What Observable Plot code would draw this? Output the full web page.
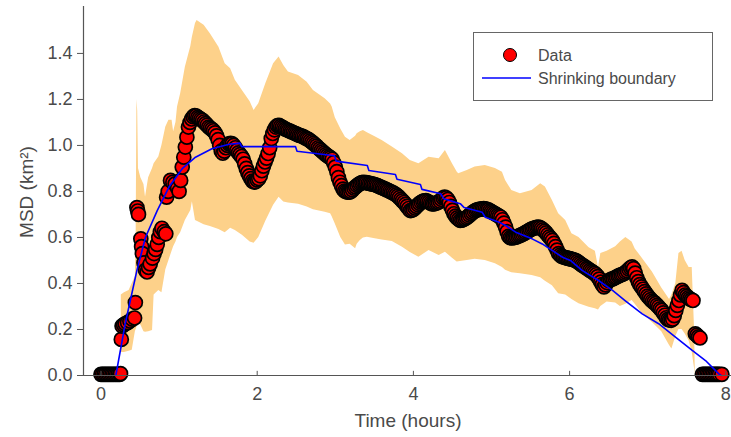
<!DOCTYPE html>
<html><head><meta charset="utf-8">
<script src="https://cdn.jsdelivr.net/npm/d3@7"></script>
<script src="https://cdn.jsdelivr.net/npm/@observablehq/plot@0.6"></script>
<style>
body{margin:0;background:#fff;}
#wrap{position:relative;width:731px;height:437px;}
</style></head><body><div id="wrap"></div>
<script>
const xTicks = [0, 2, 4, 6, 8];
const yTicks = [0, 0.2, 0.4, 0.6, 0.8, 1.0, 1.2, 1.4];
const xLabel = "Time (hours)";
const yLabel = "MSD (km²)";
const seriesNames = ["Data", "Shrinking boundary"];

const dataTime = [
0.00,0.02,0.04,0.06,0.08,0.10,0.12,0.14,0.16,0.18,0.20,0.22,0.24,0.25,0.26,0.27,0.29,0.31,0.34,0.37,0.40,0.43,0.44,0.46,0.47,0.48,0.51,0.52,0.53,0.55,0.57,0.59,0.61,0.63,0.66,0.68,0.70,0.72,0.74,0.76,0.78,0.81,0.83,0.84,0.86,0.89,0.92,0.95,0.98,1.00,1.02,1.04,1.06,1.08,
1.10,1.12,1.14,1.16,1.18,1.20,1.22,1.24,1.26,1.28,1.30,1.32,1.34,1.36,1.38,1.40,1.42,1.44,1.46,1.48,1.50,1.52,1.54,1.56,1.58,1.60,1.62,1.64,1.66,1.68,1.70,1.72,1.74,1.76,1.78,1.80,1.82,1.84,1.86,1.88,1.90,1.92,1.94,1.96,1.98,
2.00,2.02,2.04,2.06,2.08,2.10,2.12,2.14,2.16,2.18,2.20,2.22,2.24,2.26,2.28,2.30,2.32,2.34,2.36,2.38,2.40,2.42,2.44,2.46,2.48,2.50,2.52,2.54,2.56,2.58,2.60,2.62,2.64,2.66,2.68,2.70,2.72,2.74,2.76,2.78,2.80,2.82,2.84,2.86,2.88,2.90,2.92,2.94,2.96,2.98,
3.00,3.02,3.04,3.06,3.08,3.10,3.12,3.14,3.16,3.18,3.20,3.22,3.24,3.26,3.28,3.30,3.32,3.34,3.36,3.38,3.40,3.42,3.44,3.46,3.48,3.50,3.52,3.54,3.56,3.58,3.60,3.62,3.64,3.66,3.68,3.70,3.72,3.74,3.76,3.78,3.80,3.82,3.84,3.86,3.88,3.90,3.92,3.94,3.96,3.98,
4.00,4.02,4.04,4.06,4.08,4.10,4.12,4.14,4.16,4.18,4.20,4.22,4.24,4.26,4.28,4.30,4.32,4.34,4.36,4.38,4.40,4.42,4.44,4.46,4.48,4.50,4.52,4.54,4.56,4.58,4.60,4.62,4.64,4.66,4.68,4.70,4.72,4.74,4.76,4.78,4.80,4.82,4.84,4.86,4.88,4.90,4.92,4.94,4.96,4.98,
5.00,5.02,5.04,5.06,5.08,5.10,5.12,5.14,5.16,5.18,5.20,5.22,5.24,5.26,5.28,5.30,5.32,5.34,5.36,5.38,5.40,5.42,5.44,5.46,5.48,5.50,5.52,5.54,5.56,5.58,5.60,5.62,5.64,5.66,5.68,5.70,5.72,5.74,5.76,5.78,5.80,5.82,5.84,5.86,5.88,5.90,5.92,5.94,5.96,5.98,
6.00,6.02,6.04,6.06,6.08,6.10,6.12,6.14,6.16,6.18,6.20,6.22,6.24,6.26,6.28,6.30,6.32,6.34,6.36,6.38,6.40,6.42,6.44,6.46,6.48,6.50,6.52,6.54,6.56,6.58,6.60,6.62,6.64,6.66,6.68,6.70,6.72,6.74,6.76,6.78,6.80,6.82,6.84,6.86,6.88,6.90,6.92,6.94,6.96,6.98,
7.00,7.02,7.04,7.06,7.08,7.10,7.12,7.14,7.16,7.18,7.20,7.22,7.24,7.26,7.28,7.30,7.32,7.34,7.36,7.38,7.40,7.42,7.44,7.46,7.48,7.50,7.52,7.54,7.56,7.58,
7.61,7.63,7.65,7.67,7.70,7.72,7.74,7.76,7.78,7.80,7.82,7.84,7.86,7.88,7.90,7.92,7.95];
const dataMSD = [
0.005,0.005,0.005,0.005,0.005,0.005,0.005,0.005,0.005,0.005,0.005,0.005,0.005,0.008,0.157,0.215,0.22,0.225,0.23,0.237,0.245,0.25,0.317,0.73,0.715,0.70,0.594,0.56,0.53,0.49,0.457,0.45,0.47,0.485,0.51,0.53,0.548,0.57,0.60,0.625,0.64,0.625,0.616,0.775,0.80,0.848,0.84,0.833,0.815,0.80,0.848,0.906,0.949,0.993,
1.036,1.08,1.10,1.115,1.125,1.13,1.128,1.122,1.118,1.113,1.109,1.102,1.095,1.088,1.08,1.075,1.07,1.064,1.055,1.042,1.025,1.00,0.975,0.966,0.975,0.99,1.0,1.007,1.009,1.007,1.0,0.99,0.978,0.968,0.96,0.952,0.94,0.92,0.90,0.882,0.868,0.856,0.845,0.841,0.842,
0.85,0.856,0.868,0.89,0.91,0.928,0.945,0.965,0.99,1.03,1.052,1.068,1.08,1.086,1.087,1.083,1.079,1.075,1.071,1.068,1.065,1.062,1.059,1.056,1.053,1.05,1.047,1.044,1.042,1.04,1.036,1.032,1.029,1.025,1.02,1.015,1.009,1.003,0.997,0.99,0.984,0.978,0.972,0.966,0.96,0.955,0.95,0.946,0.94,0.925,
0.906,0.886,0.86,0.84,0.825,0.81,0.802,0.799,0.797,0.797,0.8,0.807,0.814,0.82,0.826,0.831,0.835,0.838,0.84,0.839,0.838,0.836,0.835,0.833,0.832,0.83,0.828,0.825,0.822,0.819,0.816,0.813,0.81,0.807,0.804,0.8,0.797,0.794,0.79,0.785,0.78,0.773,0.766,0.759,0.752,0.744,0.735,0.726,0.717,0.718,
0.722,0.728,0.735,0.742,0.748,0.753,0.757,0.759,0.76,0.757,0.753,0.749,0.746,0.746,0.748,0.75,0.753,0.758,0.765,0.772,0.775,0.772,0.765,0.752,0.735,0.718,0.703,0.693,0.685,0.679,0.674,0.675,0.678,0.682,0.686,0.691,0.697,0.703,0.709,0.714,0.718,0.72,0.722,0.723,0.724,0.725,0.724,0.722,0.72,0.716,
0.712,0.708,0.704,0.70,0.696,0.692,0.688,0.677,0.662,0.645,0.625,0.605,0.599,0.598,0.599,0.6,0.602,0.605,0.608,0.611,0.614,0.618,0.622,0.626,0.63,0.634,0.638,0.64,0.642,0.644,0.645,0.643,0.639,0.633,0.627,0.62,0.611,0.603,0.595,0.587,0.574,0.56,0.545,0.53,0.523,0.518,0.515,0.513,0.511,0.509,
0.508,0.506,0.504,0.502,0.50,0.495,0.49,0.485,0.48,0.476,0.471,0.466,0.462,0.457,0.453,0.448,0.444,0.438,0.43,0.419,0.406,0.395,0.385,0.394,0.404,0.413,0.416,0.419,0.421,0.425,0.428,0.432,0.435,0.438,0.44,0.444,0.449,0.455,0.462,0.468,0.472,0.465,0.445,0.425,0.408,0.395,0.385,0.375,0.365,0.355,
0.345,0.338,0.33,0.323,0.318,0.312,0.305,0.298,0.29,0.283,0.272,0.262,0.251,0.244,0.241,0.24,0.245,0.26,0.283,0.305,0.326,0.35,0.37,0.36,0.35,0.344,0.338,0.333,0.329,0.326,
0.181,0.175,0.168,0.163,0.005,0.005,0.005,0.005,0.005,0.005,0.005,0.005,0.005,0.005,0.005,0.005,0.005];

const boundTime = [0.19,0.31,0.46,0.57,0.72,0.87,1.04,1.21,1.42,1.64,1.78,1.80,2.49,2.51,2.99,3.01,3.41,3.43,3.77,3.79,4.09,4.11,4.35,4.39,4.60,4.65,4.88,4.92,5.09,5.18,5.31,5.52,5.65,5.78,5.91,6.01,6.16,6.37,6.55,6.71,6.93,7.14,7.36,7.57,7.74,7.91,7.94];
const boundMSD = [0,0.225,0.457,0.601,0.717,0.819,0.899,0.949,0.986,1.005,1.01,0.995,0.995,0.975,0.955,0.932,0.913,0.891,0.874,0.853,0.83,0.809,0.79,0.768,0.747,0.73,0.71,0.688,0.667,0.652,0.623,0.594,0.572,0.543,0.514,0.5,0.457,0.413,0.37,0.326,0.268,0.225,0.166,0.109,0.065,0.007,0];

const bandTime = [0.26,0.30,0.36,0.40,0.44,0.45,0.46,0.47,0.48,0.51,0.55,0.57,0.61,0.66,0.68,0.74,0.78,0.83,0.87,0.91,0.93,0.96,0.98,1.02,1.08,1.15,1.17,1.21,1.23,1.32,1.40,1.51,1.59,1.66,1.72,1.81,1.91,1.96,2.02,2.11,2.21,2.28,2.34,2.40,2.53,2.64,2.72,2.87,2.94,2.96,3.00,3.07,3.13,3.19,3.26,3.28,3.32,3.36,3.41,3.51,3.60,3.73,3.86,3.96,4.07,4.20,4.33,4.41,4.50,4.56,4.58,4.69,4.79,4.92,5.05,5.14,5.18,5.26,5.37,5.52,5.63,5.69,5.78,5.86,5.95,6.03,6.12,6.25,6.33,6.37,6.40,6.48,6.59,6.65,6.72,6.80,6.84,6.93,7.06,7.18,7.28,7.31,7.36,7.40,7.44,7.48,7.53,7.57,7.60,7.61];
const bandLow = [0.10,0.10,0.105,0.11,0.19,0.20,0.21,0.22,0.225,0.22,0.19,0.188,0.19,0.196,0.35,0.37,0.36,0.46,0.50,0.54,0.56,0.58,0.60,0.62,0.674,0.717,0.755,0.674,0.67,0.655,0.648,0.635,0.62,0.64,0.63,0.61,0.58,0.575,0.60,0.67,0.74,0.775,0.754,0.75,0.744,0.732,0.72,0.71,0.703,0.69,0.659,0.60,0.567,0.57,0.551,0.57,0.587,0.598,0.601,0.594,0.589,0.582,0.558,0.535,0.514,0.543,0.522,0.536,0.51,0.493,0.495,0.50,0.505,0.50,0.486,0.47,0.457,0.447,0.442,0.435,0.425,0.41,0.39,0.355,0.35,0.33,0.312,0.297,0.29,0.285,0.30,0.32,0.315,0.30,0.31,0.326,0.31,0.27,0.23,0.19,0.13,0.115,0.17,0.20,0.20,0.18,0.15,0.10,0.03,0];
const bandHigh = [0.35,0.36,0.37,0.40,0.43,0.60,1.20,1.15,0.90,0.86,0.83,0.775,0.86,0.90,0.92,0.95,1.00,1.08,1.11,1.11,1.06,1.10,1.167,1.225,1.34,1.43,1.47,1.53,1.543,1.522,1.486,1.427,1.355,1.333,1.283,1.239,1.19,1.152,1.181,1.268,1.355,1.384,1.348,1.319,1.304,1.275,1.239,1.203,1.18,1.167,1.12,1.072,1.036,1.022,1.04,1.051,1.06,1.065,1.055,1.038,1.022,0.993,0.964,0.935,0.920,0.949,0.942,0.978,0.920,0.885,0.877,0.891,0.906,0.913,0.90,0.884,0.848,0.804,0.790,0.804,0.833,0.819,0.761,0.703,0.674,0.616,0.60,0.555,0.54,0.47,0.53,0.54,0.56,0.58,0.60,0.58,0.55,0.51,0.45,0.38,0.33,0.35,0.40,0.53,0.54,0.50,0.47,0.47,0.2,0];

const points = dataTime.map((t, i) => ({t, v: dataMSD[i]}));
const boundary = boundTime.map((t, i) => ({t, v: boundMSD[i]}));
const band = bandTime.map((t, i) => ({t, lo: bandLow[i], hi: bandHigh[i]}));

const FONT = "'Liberation Sans', Arial, Helvetica, sans-serif";
const TXT = "#4a4a4a";
const AX = "#555555";

const chart = Plot.plot({
  width: 731, height: 437,
  marginLeft: 83, marginRight: 0, marginTop: 6, marginBottom: 62,
  x: {domain: [-0.224, 8.073]},
  y: {domain: [0, 1.604]},
  style: {fontFamily: FONT, fontSize: "18px", color: TXT, background: "white"},
  marks: [
    Plot.areaY(band, {x: "t", y1: "lo", y2: "hi", fill: "#fdd18a"}),
    Plot.dot(points, {x: "t", y: "v", r: 7, fill: "#ff0000", stroke: "#000", strokeWidth: 1.7}),
    Plot.line(boundary, {x: "t", y: "v", stroke: "#0000ff", strokeWidth: 1.6}),
    Plot.ruleY([0], {stroke: AX, strokeWidth: 1.2}),
    Plot.ruleX([-0.224], {stroke: AX, strokeWidth: 1.2}),
    Plot.ruleX(xTicks, {x: d => d, y1: 0, y2: 0.018, stroke: AX}),
    Plot.axisX({ticks: xTicks, tickSize: 0, tickPadding: 12, label: null, fontSize: 18, fill: TXT}),
    Plot.axisY({ticks: yTicks, tickSize: 6, tickPadding: 5, tickFormat: d => d.toFixed(1), label: null, fontSize: 18, stroke: AX, fill: TXT})
  ]
});

const svg = d3.select(chart);
svg.append("text").attr("x", 408).attr("y", 427).attr("text-anchor", "middle")
  .attr("font-family", FONT).attr("font-size", 19).attr("fill", TXT).text(xLabel);
svg.append("text").attr("transform", "translate(33,192) rotate(-90)").attr("text-anchor", "middle")
  .attr("font-family", FONT).attr("font-size", 19).attr("fill", TXT).text(yLabel);

const lg = svg.append("g").attr("text-anchor", "start");
lg.append("rect").attr("x", 473.5).attr("y", 32.5).attr("width", 239).attr("height", 68)
  .attr("fill", "white").attr("stroke", "#666").attr("stroke-width", 1);
lg.append("circle").attr("cx", 510).attr("cy", 55).attr("r", 6.5).attr("fill", "#ff0000").attr("stroke", "#000");
lg.append("line").attr("x1", 482).attr("x2", 531).attr("y1", 78).attr("y2", 78).attr("stroke", "#0000ff").attr("stroke-width", 1.6);
lg.append("text").attr("x", 538).attr("y", 61).attr("text-anchor", "start").attr("font-family", FONT).attr("font-size", 16).attr("fill", TXT).text(seriesNames[0]);
lg.append("text").attr("x", 538).attr("y", 84).attr("text-anchor", "start").attr("font-family", FONT).attr("font-size", 16).attr("fill", TXT).text(seriesNames[1]);

document.getElementById("wrap").appendChild(chart);
</script></body></html>
